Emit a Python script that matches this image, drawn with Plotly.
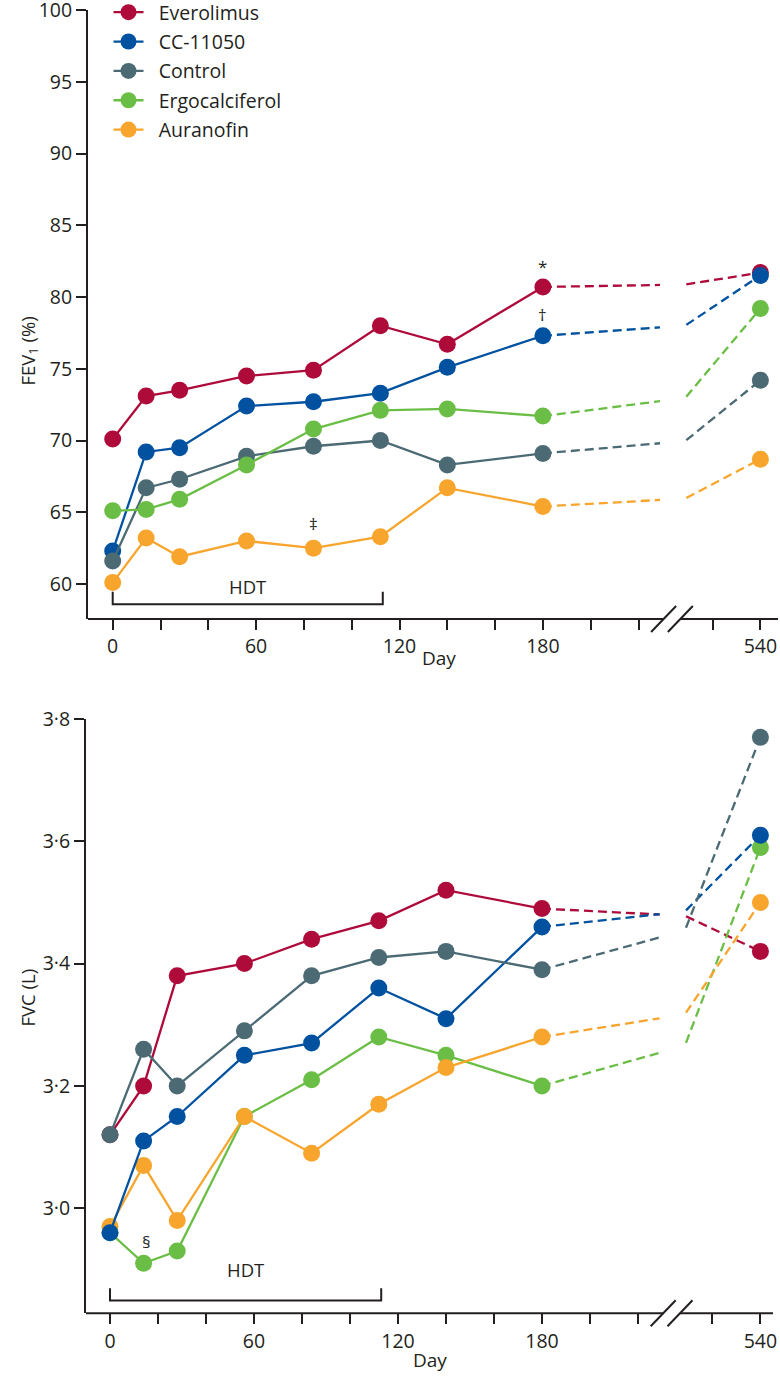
import plotly.graph_objects as go

W, H = 780, 1388
FONT = "Open Sans"
TXT = "#231F20"

# ---------------- data ----------------
series = ["Everolimus", "CC-11050", "Control", "Ergocalciferol", "Auranofin"]
colors = ["#AE0B3B", "#0052A0", "#4B6A74", "#6BBE45", "#F7A52D"]

days = [0, 14, 28, 56, 84, 112, 140, 180]
followup_day = 540

# FEV1 (%)
fev1_everolimus = [70.1, 73.1, 73.5, 74.5, 74.9, 78.0, 76.7, 80.7]
fev1_cc11050 = [62.3, 69.2, 69.5, 72.4, 72.7, 73.3, 75.1, 77.3]
fev1_control = [61.6, 66.7, 67.3, 68.9, 69.6, 70.0, 68.3, 69.1]
fev1_ergocalciferol = [65.1, 65.2, 65.9, 68.3, 70.8, 72.1, 72.2, 71.7]
fev1_auranofin = [60.1, 63.2, 61.9, 63.0, 62.5, 63.3, 66.7, 65.4]
fev1_day540 = [81.7, 81.5, 74.2, 79.2, 68.7]

# FVC (L)
fvc_everolimus = [3.12, 3.20, 3.38, 3.40, 3.44, 3.47, 3.52, 3.49]
fvc_cc11050 = [2.96, 3.11, 3.15, 3.25, 3.27, 3.36, 3.31, 3.46]
fvc_control = [3.12, 3.26, 3.20, 3.29, 3.38, 3.41, 3.42, 3.39]
fvc_ergocalciferol = [2.96, 2.91, 2.93, 3.15, 3.21, 3.28, 3.25, 3.20]
fvc_auranofin = [2.97, 3.07, 2.98, 3.15, 3.09, 3.17, 3.23, 3.28]
fvc_day540 = [3.42, 3.61, 3.77, 3.59, 3.50]

fev1_values = [fev1_everolimus, fev1_cc11050, fev1_control, fev1_ergocalciferol, fev1_auranofin]
fvc_values = [fvc_everolimus, fvc_cc11050, fvc_control, fvc_ergocalciferol, fvc_auranofin]

fev1_ticks = [60, 65, 70, 75, 80, 85, 90, 95, 100]
fvc_ticks = [3.0, 3.2, 3.4, 3.6, 3.8]
x_tick_days = [0, 20, 40, 60, 80, 100, 120, 140, 160, 180, 200, 220, 520, 540]
x_labelled = [0, 60, 120, 180, 540]

hdt_start, hdt_end = 0, 113

# --------------- broken x-axis mapping ---------------
X540 = 271                      # plotted position of day 540
BREAK_L_X, BREAK_R_X = 229, 240  # dashed line stops / resumes
BREAK_L_DAY, BREAK_R_DAY = 230, 245
SLASH_X = [230.5, 237.5]


def xpos(d):
    return d if d <= 230 else d - followup_day + X540


def interp(v180, v540, d):
    return v180 + (v540 - v180) * (d - 180) / (followup_day - 180)


def px_x(p):
    return p / W


def px_y(p):
    return 1 - p / H


fig = go.Figure()

panels = [
    dict(vals=fev1_values, v540=fev1_day540, xa="x", ya="y", order=[0, 1, 2, 3, 4], legend=True),
    dict(vals=fvc_values, v540=fvc_day540, xa="x2", ya="y2", order=[0, 3, 4, 1, 2], legend=False),
]

for p in panels:
    for i in p["order"]:
        vals = p["vals"][i]
        v180, v540 = vals[-1], p["v540"][i]
        fig.add_trace(go.Scatter(
            x=[xpos(180), BREAK_L_X, None, BREAK_R_X, xpos(followup_day)],
            y=[v180, interp(v180, v540, BREAK_L_DAY), None,
               interp(v180, v540, BREAK_R_DAY), v540],
            mode="lines", line=dict(color=colors[i], width=2.3, dash="9px,5px"),
            showlegend=False, hoverinfo="skip", xaxis=p["xa"], yaxis=p["ya"],
            cliponaxis=False))
    for i in p["order"]:
        vals = p["vals"][i]
        fig.add_trace(go.Scatter(
            x=[xpos(d) for d in days], y=vals, mode="lines+markers",
            name="\u00a0\u00a0" + series[i], legendgroup=series[i], legendrank=i + 1,
            showlegend=p["legend"],
            line=dict(color=colors[i], width=2.3),
            marker=dict(color=colors[i], size=17, line=dict(width=0)),
            xaxis=p["xa"], yaxis=p["ya"], cliponaxis=False))
        fig.add_trace(go.Scatter(
            x=[xpos(followup_day)], y=[p["v540"][i]], mode="markers",
            marker=dict(color=colors[i], size=17, line=dict(width=0)),
            showlegend=False, xaxis=p["xa"], yaxis=p["ya"], cliponaxis=False))

major_x = [xpos(d) for d in x_labelled]
minor_x = [xpos(d) for d in x_tick_days if d not in x_labelled]

axis_common = dict(showgrid=False, zeroline=False, ticks="outside", ticklen=10,
                   tickwidth=2, tickcolor=TXT, tickfont=dict(family=FONT, size=19.5, color=TXT),
                   fixedrange=True, automargin=False, ticklabeloverflow="allow")
minor_common = dict(tickmode="array", tickvals=minor_x, ticks="outside", ticklen=10,
                    tickwidth=2, tickcolor=TXT, showgrid=False)

T = dict(l=88, r=778, t=10, b=619)
B = dict(l=86, r=773, t=719, b=1313.3)

fig.update_layout(
    xaxis=dict(domain=[px_x(T["l"]), px_x(T["r"])], range=[(T["l"] - 112.7) / 2.39, (T["r"] - 112.7) / 2.39],
               tickmode="array", tickvals=major_x, ticktext=[str(d) for d in x_labelled],
               minor=minor_common, showline=False, anchor="y", **axis_common),
    yaxis=dict(domain=[px_y(T["b"]), px_y(T["t"])], range=[60 - (619 - 584) / 14.35, 100],
               tickmode="array", tickvals=fev1_ticks, ticktext=[str(v) for v in fev1_ticks],
               showline=True, linewidth=2, linecolor=TXT, anchor="x", **axis_common),
    xaxis2=dict(domain=[px_x(B["l"]), px_x(B["r"])], range=[(B["l"] - 110) / 2.4, (B["r"] - 110) / 2.4],
                tickmode="array", tickvals=major_x, ticktext=[str(d) for d in x_labelled],
                minor=minor_common, showline=False, anchor="y2", **axis_common),
    yaxis2=dict(domain=[px_y(B["b"]), px_y(B["t"])], range=[3.0 - (1313.3 - 1208.3) / 611, 3.8],
                tickmode="array", tickvals=fvc_ticks,
                ticktext=[f"{v:.1f}".replace(".", "\u00b7") for v in fvc_ticks],
                showline=True, linewidth=2, linecolor=TXT, anchor="x2", **axis_common),
)

shapes = []
annotations = []
for xa, ya, rng_l, rng_r in [("x", "y", fig.layout.xaxis.range[0], fig.layout.xaxis.range[1]),
                             ("x2", "y2", fig.layout.xaxis2.range[0], fig.layout.xaxis2.range[1])]:
    # x-axis line with a break
    for x0, x1 in [(rng_l, SLASH_X[0]), (SLASH_X[1], rng_r)]:
        shapes.append(dict(type="line", xref=xa, yref=f"{ya} domain", x0=x0, x1=x1, y0=0, y1=0,
                           line=dict(color=TXT, width=2), layer="above"))
    for sx in SLASH_X:
        shapes.append(dict(type="line", xref=xa, yref=f"{ya} domain", xsizemode="pixel",
                           ysizemode="pixel", xanchor=sx, yanchor=0, x0=-12.5, x1=12.5,
                           y0=-13, y1=13, line=dict(color=TXT, width=2), layer="above"))

# HDT brackets
top_bar, top_tip, top_txt = 58.59, 59.46, 59.85
bot_bar, bot_tip, bot_txt = 2.849, 2.869, 2.899
for xa, ya, bar, tip, ty in [("x", "y", top_bar, top_tip, top_txt), ("x2", "y2", bot_bar, bot_tip, bot_txt)]:
    shapes.append(dict(type="path", xref=xa, yref=ya,
                       path=f"M{hdt_start},{tip} L{hdt_start},{bar} L{hdt_end},{bar} L{hdt_end},{tip}",
                       line=dict(color=TXT, width=2)))
    annotations.append(dict(text="HDT", x=(hdt_start + hdt_end) / 2, y=ty, xref=xa, yref=ya,
                            showarrow=False, font=dict(family=FONT, size=18.5, color=TXT)))

sym_font = dict(family=FONT, size=17, color=TXT)
annotations += [
    dict(text="*", x=180, y=82.15, xref="x", yref="y", showarrow=False, font=sym_font),
    dict(text="\u2020", x=180, y=78.75, xref="x", yref="y", showarrow=False, font=sym_font),
    dict(text="\u2021", x=84, y=64.25, xref="x", yref="y", showarrow=False, font=sym_font),
    dict(text="\u00a7", x=15, y=2.945, xref="x2", yref="y2", showarrow=False, font=sym_font),
    dict(text="Day", x=px_x(439), y=px_y(658), xref="paper", yref="paper", showarrow=False,
         font=dict(family=FONT, size=19, color=TXT)),
    dict(text="Day", x=px_x(430), y=px_y(1375), xref="paper", yref="paper", showarrow=False,
         font=dict(family=FONT, size=19, color=TXT)),
    dict(text="FEV<sub>1</sub> (%)", x=px_x(12), y=px_y(315), xref="paper", yref="paper",
         showarrow=False, textangle=-90, font=dict(family=FONT, size=18.5, color=TXT)),
    dict(text="FVC (L)", x=px_x(12), y=px_y(1029), xref="paper", yref="paper",
         showarrow=False, textangle=-90, font=dict(family=FONT, size=18.5, color=TXT)),
]

fig.update_layout(
    width=W, height=H, margin=dict(l=0, r=0, t=0, b=0, pad=0, autoexpand=False),
    paper_bgcolor="white", plot_bgcolor="white",
    shapes=shapes, annotations=annotations,
    legend=dict(x=px_x(108.5), y=px_y(-7), xanchor="left", yanchor="top", bgcolor="rgba(0,0,0,0)",
                font=dict(family=FONT, size=19.5, color=TXT), traceorder="grouped",
                tracegroupgap=1, itemsizing="trace"),
    font=dict(family=FONT, color=TXT),
)

fig.write_html("out.html", config={"displayModeBar": False},
               post_script="document.body.style.margin='0';")
